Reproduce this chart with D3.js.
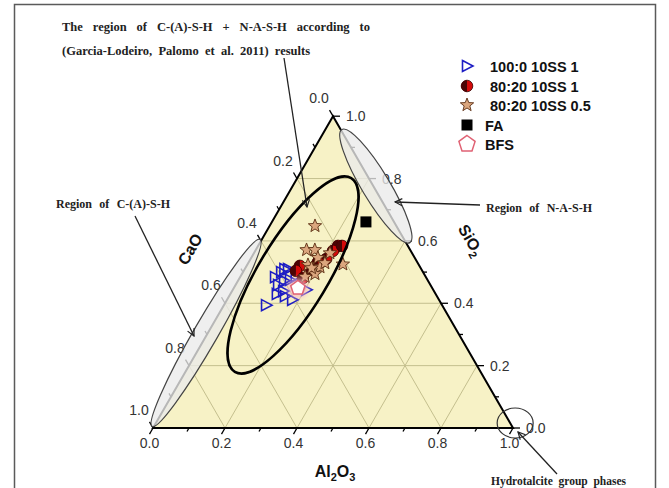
<!DOCTYPE html>
<html>
<head>
<meta charset="utf-8">
<script src="https://cdn.jsdelivr.net/npm/d3@7"></script>
<style>
  html, body { margin: 0; padding: 0; background: #fff; }
  svg { display: block; }
</style>
</head>
<body>
<svg id="chart" width="669" height="488"></svg>
<script>
// Compositions as mass fractions: CaO, Al2O3, SiO2
const seriesNames = ["100:0 10SS 1", "80:20 10SS 1", "80:20 10SS 0.5", "FA", "BFS"];

const ss100_1 = [
  { CaO: 0.489, Al2O3: 0.117, SiO2: 0.394 },
  { CaO: 0.419, Al2O3: 0.097, SiO2: 0.484 },
  { CaO: 0.394, Al2O3: 0.106, SiO2: 0.500 },
  { CaO: 0.423, Al2O3: 0.118, SiO2: 0.459 },
  { CaO: 0.419, Al2O3: 0.142, SiO2: 0.439 },
  { CaO: 0.382, Al2O3: 0.143, SiO2: 0.475 },
  { CaO: 0.370, Al2O3: 0.120, SiO2: 0.510 },
  { CaO: 0.408, Al2O3: 0.181, SiO2: 0.411 },
  { CaO: 0.422, Al2O3: 0.155, SiO2: 0.423 },
  { CaO: 0.441, Al2O3: 0.129, SiO2: 0.430 },
  { CaO: 0.353, Al2O3: 0.204, SiO2: 0.443 },
  { CaO: 0.360, Al2O3: 0.153, SiO2: 0.487 },
  { CaO: 0.400, Al2O3: 0.128, SiO2: 0.472 },
  { CaO: 0.380, Al2O3: 0.110, SiO2: 0.510 }
];

const ss8020_1 = [
  { CaO: 0.194, Al2O3: 0.222, SiO2: 0.584 },
  { CaO: 0.216, Al2O3: 0.216, SiO2: 0.568 },
  { CaO: 0.248, Al2O3: 0.210, SiO2: 0.542 },
  { CaO: 0.332, Al2O3: 0.148, SiO2: 0.520 },
  { CaO: 0.351, Al2O3: 0.145, SiO2: 0.504 },
  { CaO: 0.343, Al2O3: 0.176, SiO2: 0.481 },
  { CaO: 0.276, Al2O3: 0.192, SiO2: 0.532 },
  { CaO: 0.310, Al2O3: 0.183, SiO2: 0.507 },
  { CaO: 0.183, Al2O3: 0.233, SiO2: 0.584 }
];

const ss8020_05 = [
  { CaO: 0.226, Al2O3: 0.126, SiO2: 0.648 },
  { CaO: 0.288, Al2O3: 0.141, SiO2: 0.571 },
  { CaO: 0.265, Al2O3: 0.164, SiO2: 0.571 },
  { CaO: 0.269, Al2O3: 0.185, SiO2: 0.546 },
  { CaO: 0.308, Al2O3: 0.169, SiO2: 0.523 },
  { CaO: 0.278, Al2O3: 0.206, SiO2: 0.516 },
  { CaO: 0.335, Al2O3: 0.180, SiO2: 0.485 },
  { CaO: 0.303, Al2O3: 0.203, SiO2: 0.494 },
  { CaO: 0.210, Al2O3: 0.265, SiO2: 0.525 },
  { CaO: 0.228, Al2O3: 0.211, SiO2: 0.561 },
  { CaO: 0.303, Al2O3: 0.184, SiO2: 0.513 },
  { CaO: 0.258, Al2O3: 0.213, SiO2: 0.529 }
];

const flyAsh = [{ CaO: 0.078, Al2O3: 0.261, SiO2: 0.661 }];
const slag = [{ CaO: 0.373, Al2O3: 0.178, SiO2: 0.449 }];

const tickValues = [0, 0.1, 0.2, 0.3, 0.4, 0.5, 0.6, 0.7, 0.8, 0.9, 1.0];
const gridValues = [0.2, 0.4, 0.6, 0.8];

// Outlined composition regions (centre composition)
const regionCASHNASH = { CaO: 0.366, Al2O3: 0.1435, SiO2: 0.491 };
const regionCASH = { CaO: 0.700, Al2O3: -0.005, SiO2: 0.305 };
const regionNASH = { CaO: -0.007, Al2O3: 0.231, SiO2: 0.776 };
const regionHT = { CaO: -0.014, Al2O3: 0.998, SiO2: 0.016 };

const svg = d3.select("#chart");
const sans = "'Liberation Sans', Arial, sans-serif";
const serif = "'Liberation Serif', 'Times New Roman', serif";

// Ternary projection: horizontal position from Al2O3 + SiO2/2, vertical from SiO2
const xs = d3.scaleLinear().domain([0, 1]).range([153, 513]);
const ys = d3.scaleLinear().domain([0, 1]).range([428, 116.2]);
const P = (ca, al, si) => [xs(al + si / 2), ys(si)];
const Pd = d => P(d.CaO, d.Al2O3, d.SiO2);

// outer frame
svg.append("rect").attr("x", 14.5).attr("y", 4.5).attr("width", 641).attr("height", 500)
  .attr("fill", "none").attr("stroke", "#5a5a5a").attr("stroke-width", 1.5);

const line = d3.line();
const A = P(1, 0, 0), B = P(0, 1, 0), C = P(0, 0, 1);

// triangle fill
svg.append("path").attr("d", line([A, B, C]) + "Z").attr("fill", "#f7f2c6");

// grid
const grid = svg.append("g").attr("stroke", "#c4bf8e").attr("stroke-width", 1).attr("fill", "none");
gridValues.forEach(v => {
  grid.append("path").attr("d", line([P(1 - v, 0, v), P(0, 1 - v, v)]));
  grid.append("path").attr("d", line([P(1 - v, v, 0), P(0, v, 1 - v)]));
  grid.append("path").attr("d", line([P(v, 1 - v, 0), P(v, 0, 1 - v)]));
});

// triangle edges
svg.append("path").attr("d", line([A, B, C]) + "Z").attr("fill", "none")
  .attr("stroke", "#000").attr("stroke-width", 2).attr("stroke-linejoin", "miter");

// ticks and labels
const fmt = d3.format(".1f");
const ticks = svg.append("g").attr("stroke", "#000").attr("stroke-width", 1.3);
const labels = svg.append("g").attr("font-family", sans).attr("font-size", 14).attr("fill", "#333");
tickValues.forEach((v, i) => {
  const major = i % 2 === 0;
  const len = major ? 7 : 4;
  // bottom axis: Al2O3
  let p = P(1 - v, v, 0);
  ticks.append("line").attr("x1", p[0]).attr("y1", p[1])
    .attr("x2", p[0] - 0.5 * len).attr("y2", p[1] + 0.866 * len);
  if (major) labels.append("text").attr("x", p[0] - 3.5).attr("y", 448)
    .attr("text-anchor", "middle").text(fmt(v));
  // right axis: SiO2
  p = P(0, 1 - v, v);
  ticks.append("line").attr("x1", p[0]).attr("y1", p[1]).attr("x2", p[0] + len).attr("y2", p[1]);
  if (major) labels.append("text").attr("x", p[0] + 13).attr("y", p[1] + 5)
    .attr("text-anchor", "start").text(fmt(v));
  // left axis: CaO
  p = P(v, 0, 1 - v);
  ticks.append("line").attr("x1", p[0]).attr("y1", p[1])
    .attr("x2", p[0] - 0.5 * len).attr("y2", p[1] - 0.866 * len);
  if (major) labels.append("text").attr("x", p[0] - 14).attr("y", p[1] - 13)
    .attr("text-anchor", "middle").text(fmt(v));
});

// axis titles
const title = (x, y, rot, parts) => {
  const t = svg.append("text").attr("transform", `translate(${x},${y}) rotate(${rot})`)
    .attr("text-anchor", "middle").attr("font-family", sans).attr("font-weight", "bold")
    .attr("font-size", 16).attr("fill", "#111");
  parts.forEach(([s, sub]) => {
    const ts = t.append("tspan").text(s);
    if (sub) ts.attr("font-size", 11).attr("dy", 4);
    else ts.attr("dy", t.selectAll("tspan").size() > 1 ? -4 : 0);
  });
};
title(335, 477, 0, [["Al"], ["2", true], ["O"], ["3", true]]);
title(195, 252, -60, [["CaO"]]);
title(466, 243, 60, [["SiO"], ["2", true]]);

// gray regions along the edges
const ellipse = (c, rx, ry, rot, fill, stroke, sw) => {
  const p = Pd(c);
  svg.append("ellipse").attr("transform", `translate(${p[0]},${p[1]}) rotate(${rot})`)
    .attr("rx", rx).attr("ry", ry).attr("fill", fill).attr("stroke", stroke).attr("stroke-width", sw);
};
ellipse(regionCASH, 108, 12, -60, "rgba(234,234,234,0.78)", "#444", 1.2);
ellipse(regionNASH, 66, 14, 59, "rgba(234,234,234,0.78)", "#444", 1.2);
ellipse(regionHT, 18, 15, 0, "none", "#333", 1.2);

// symbols
const triPath = "M-4.5,-5.5L6,0L-4.5,5.5Z";
const starPath = (() => {
  const pts = [];
  for (let k = 0; k < 10; k++) {
    const r = k % 2 === 0 ? 7 : 3;
    const a = -Math.PI / 2 + k * Math.PI / 5;
    pts.push([r * Math.cos(a), r * Math.sin(a)]);
  }
  return d3.line()(pts) + "Z";
})();
const pentPath = r => {
  const pts = d3.range(5).map(k => {
    const a = -Math.PI / 2 + k * 2 * Math.PI / 5;
    return [r * Math.cos(a), r * Math.sin(a)];
  });
  return d3.line()(pts) + "Z";
};
const halfLeft = r => `M0,${-r}A${r},${r} 0 0 0 0,${r}Z`;

const drawTri = (g, p) => g.append("path").attr("d", triPath)
  .attr("transform", `translate(${p[0]},${p[1]})`)
  .attr("fill", "none").attr("stroke", "#1d1dc4").attr("stroke-width", 1.6);
const drawHalf = (g, p) => {
  const s = g.append("g").attr("transform", `translate(${p[0]},${p[1]})`);
  s.append("circle").attr("r", 5.8).attr("fill", "#d40a0a");
  s.append("path").attr("d", halfLeft(5.8)).attr("fill", "#4a0505");
  s.append("circle").attr("r", 5.8).attr("fill", "none").attr("stroke", "#3a0000").attr("stroke-width", 0.8);
};
const drawStar = (g, p) => g.append("path").attr("d", starPath)
  .attr("transform", `translate(${p[0]},${p[1]})`)
  .attr("fill", "#dba67e").attr("stroke", "#5a2c12").attr("stroke-width", 0.9);
const drawSquare = (g, p) => g.append("rect").attr("x", p[0] - 5.5).attr("y", p[1] - 5.5)
  .attr("width", 11).attr("height", 11).attr("fill", "#000");
const drawPent = (g, p, r, glow) => {
  if (glow) g.append("circle").attr("cx", p[0]).attr("cy", p[1]).attr("r", r + 3)
    .attr("fill", "#f7b6c4").attr("opacity", 0.7).style("filter", "blur(2px)");
  g.append("path").attr("d", pentPath(r)).attr("transform", `translate(${p[0]},${p[1]})`)
    .attr("fill", "#fff").attr("stroke", "#e06274").attr("stroke-width", 1.5);
};

const marks = svg.append("g");
ss100_1.forEach(d => drawTri(marks, Pd(d)));
ss8020_1.forEach(d => drawHalf(marks, Pd(d)));
ss8020_05.forEach(d => drawStar(marks, Pd(d)));
slag.forEach(d => drawPent(marks, Pd(d), 7.5, true));
flyAsh.forEach(d => drawSquare(marks, Pd(d)));

// combined C-(A)-S-H + N-A-S-H region
ellipse(regionCASHNASH, 113, 35, -59, "none", "#000", 2.6);

// legend
const legend = svg.append("g");
const legendRows = [
  { y: 66, tx: 490, draw: p => drawTri(legend, p) },
  { y: 86, tx: 490, draw: p => drawHalf(legend, p) },
  { y: 105, tx: 490, draw: p => drawStar(legend, p) },
  { y: 125, tx: 485, draw: p => drawSquare(legend, p) },
  { y: 144, tx: 485, draw: p => drawPent(legend, p, 8.5, false) }
];
legendRows.forEach((r, i) => {
  r.draw([467, r.y]);
  legend.append("text").attr("x", r.tx).attr("y", r.y + 5.5)
    .attr("font-family", sans).attr("font-weight", "bold").attr("font-size", 14.5)
    .attr("fill", "#111").text(seriesNames[i]);
});

// annotations with arrows
const defs = svg.append("defs");
defs.append("marker").attr("id", "arr").attr("viewBox", "0 0 10 10").attr("refX", 9).attr("refY", 5)
  .attr("markerWidth", 9).attr("markerHeight", 9).attr("markerUnits", "userSpaceOnUse")
  .attr("orient", "auto")
  .append("path").attr("d", "M1,1L9,5L1,9").attr("fill", "none").attr("stroke", "#222").attr("stroke-width", 1.3);

const arrow = (x1, y1, x2, y2) => svg.append("line")
  .attr("x1", x1).attr("y1", y1).attr("x2", x2).attr("y2", y2)
  .attr("stroke", "#222").attr("stroke-width", 1.3).attr("marker-end", "url(#arr)");

arrow(284, 58, 307, 207);
arrow(135, 216, 194, 336);
arrow(480, 205, 395, 202);
arrow(557, 474, 518, 432);

// justified annotation text: stretch word gaps to the given width
const note = (x, y, s, width, size) => {
  const t = svg.append("text").attr("x", x).attr("y", y)
    .attr("font-family", serif).attr("font-weight", "bold").attr("font-size", size)
    .attr("fill", "#222").text(s);
  const words = s.split(" ").length;
  if (width && words > 1) {
    const natural = t.node().getComputedTextLength();
    const extra = Math.max(0, (width - natural) / (words - 1));
    t.attr("word-spacing", extra);
  }
};
note(62, 31, "The region of C-(A)-S-H + N-A-S-H according to", 308, 12.5);
note(62, 55, "(Garcia-Lodeiro, Palomo et al. 2011) results", 248, 12.5);
note(56, 208, "Region of C-(A)-S-H", 114, 12);
note(486, 212, "Region of N-A-S-H", 106, 12);
note(491, 485, "Hydrotalcite group phases", 135, 11.5);
</script>
</body>
</html>
